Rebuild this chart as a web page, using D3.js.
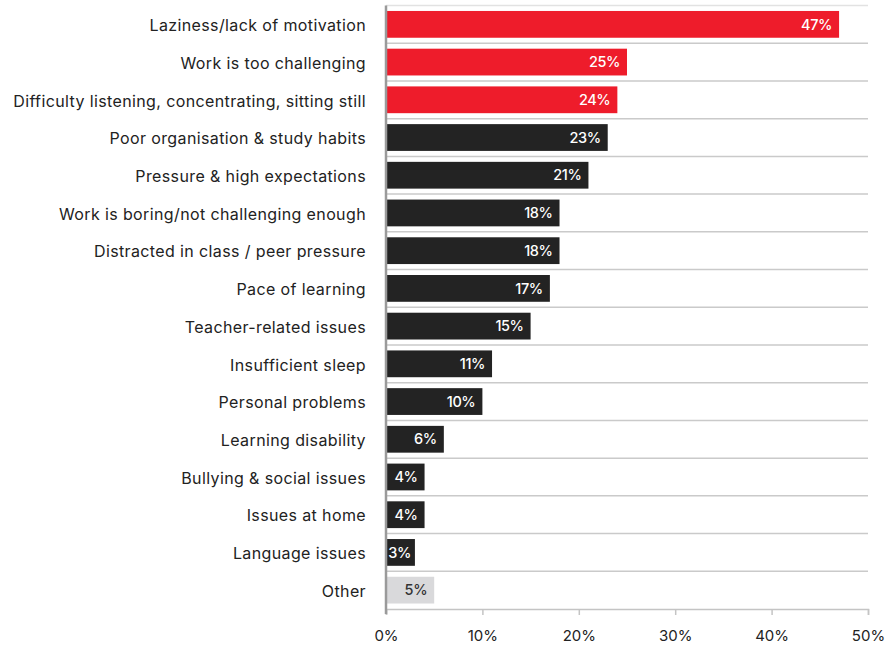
<!DOCTYPE html>
<html>
<head>
<meta charset="utf-8">
<script src="https://cdn.jsdelivr.net/npm/d3@7"></script>
<style>
  html, body { margin: 0; padding: 0; background: #fff; }
  svg { display: block; font-family: Inter, "Noto Sans", sans-serif; }
</style>
</head>
<body>
<svg id="chart" width="896" height="645"></svg>
<script>
// Reasons given for low effort / underperformance, share of respondents (%)
const categories = [
  "Laziness/lack of motivation",
  "Work is too challenging",
  "Difficulty listening, concentrating, sitting still",
  "Poor organisation & study habits",
  "Pressure & high expectations",
  "Work is boring/not challenging enough",
  "Distracted in class / peer pressure",
  "Pace of learning",
  "Teacher-related issues",
  "Insufficient sleep",
  "Personal problems",
  "Learning disability",
  "Bullying & social issues",
  "Issues at home",
  "Language issues",
  "Other"
];
const values = [47, 25, 24, 23, 21, 18, 18, 17, 15, 11, 10, 6, 4, 4, 3, 5];
// highlight group: "top" for the three leading reasons, "other" for the catch-all
const groups = ["top","top","top","main","main","main","main","main","main","main","main","main","main","main","main","other"];
const xTicks = [0, 10, 20, 30, 40, 50];

const colors = { top: "#ee1c2b", main: "#232323", other: "#d9d9db" };
const labelColors = { top: "#ffffff", main: "#ffffff", other: "#333333" };

const margin = { top: 5.5, left: 386 };

const svg = d3.select("#chart");
const g = svg.append("g").attr("transform", `translate(${margin.left},${margin.top})`);

const x = d3.scaleLinear().domain([0, 50]).range([0, 482]);
const y = d3.scaleBand().domain(categories).range([0, 603.5]).paddingInner(0.29).paddingOuter(0.145);

const data = categories.map((c, i) => ({ cat: c, v: values[i], grp: groups[i] }));

// row separators (band boundaries)
const step = y.step();
const bounds = d3.range(categories.length + 1).map(i => y.range()[0] + i * step);
g.append("g").selectAll("line")
  .data(bounds.slice(0, -1))
  .join("line")
  .attr("x1", 0).attr("x2", x(50))
  .attr("y1", d => d).attr("y2", d => d)
  .attr("stroke", (d, i) => i === 0 ? "#e2e2e2" : "#cacaca")
  .attr("stroke-width", 1.5);

// bars
g.append("g").selectAll("rect")
  .data(data)
  .join("rect")
  .attr("x", 0)
  .attr("y", d => y(d.cat))
  .attr("width", d => x(d.v))
  .attr("height", y.bandwidth())
  .attr("fill", d => colors[d.grp]);

// value labels inside bar ends (kept inside the bar for very short bars)
g.append("g").selectAll("text")
  .data(data)
  .join("text")
  .attr("x", d => Math.max(x(d.v) - 7, 25))
  .attr("y", d => y(d.cat) + y.bandwidth() / 2)
  .attr("dy", "0.36em")
  .attr("text-anchor", "end")
  .attr("font-size", 14.5)
  .attr("font-weight", 500)
  .attr("letter-spacing", -0.4)
  .attr("fill", d => labelColors[d.grp])
  .text(d => d.v + "%");

// category labels
g.append("g").selectAll("text")
  .data(data)
  .join("text")
  .attr("x", -20)
  .attr("y", d => y(d.cat) + y.bandwidth() / 2 + 1)
  .attr("dy", "0.36em")
  .attr("text-anchor", "end")
  .attr("font-size", 16)
  .attr("letter-spacing", 0.38)
  .attr("fill", "#222")
  .text(d => d.cat);

// bottom axis
const axisY = bounds[bounds.length - 1];
const xAxis = g.append("g")
  .attr("transform", `translate(0,${axisY})`)
  .call(d3.axisBottom(x).tickValues(xTicks).tickFormat(d => d + "%").tickSize(6).tickPadding(15));
xAxis.select(".domain").attr("stroke", "#c4c4c4").attr("stroke-width", 1.5);
xAxis.selectAll(".tick line").attr("stroke", "#c4c4c4").attr("stroke-width", 1.5);
xAxis.selectAll(".tick text")
  .attr("font-family", "Inter, 'Noto Sans', sans-serif")
  .attr("font-size", 15)
  .attr("fill", "#222");

// left baseline
g.append("line")
  .attr("x1", 0).attr("x2", 0)
  .attr("y1", 0).attr("y2", axisY + 5)
  .attr("stroke", "#9a9a9a")
  .attr("stroke-width", 2.5);
</script>
</body>
</html>
